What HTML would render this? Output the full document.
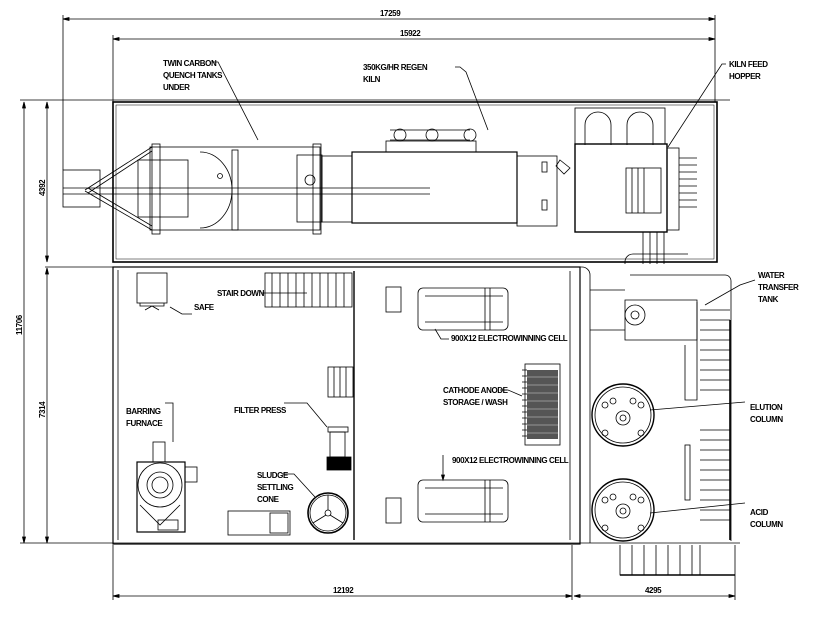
<!DOCTYPE html>
<html><head><style>html,body{margin:0;padding:0;background:#fff}svg{display:block}text{font-family:"Liberation Sans",sans-serif;font-size:8px;font-weight:bold;fill:#000;letter-spacing:-0.4px}</style></head>
<body>
<svg width="820" height="632" viewBox="0 0 820 632" xmlns="http://www.w3.org/2000/svg" fill="none" stroke="#000" stroke-width="0.8">
<line x1="63" y1="15" x2="63" y2="170"/>
<line x1="113" y1="35" x2="113" y2="102"/>
<line x1="715" y1="15" x2="715" y2="102"/>
<line x1="63" y1="19" x2="715" y2="19"/>
<line x1="113" y1="39" x2="715" y2="39"/>
<path d="M63 19l6-1.5v3zM715 19l-6-1.5v3zM113 39l6-1.5v3zM715 39l-6-1.5v3z" fill="#000"/>
<text x="380" y="16" stroke="none">17259</text>
<text x="400" y="36" stroke="none">15922</text>
<line x1="20" y1="100" x2="730" y2="100"/>
<line x1="24" y1="102" x2="24" y2="543"/>
<line x1="47" y1="102" x2="47" y2="262"/>
<line x1="47" y1="268" x2="47" y2="543"/>
<line x1="45" y1="267" x2="113" y2="267"/>
<path d="M24 102l-1.5 6h3zM24 543l-1.5-6h3zM47 102l-1.5 6h3zM47 262l-1.5-6h3zM47 268l-1.5 6h3zM47 543l-1.5-6h3z" fill="#000"/>
<text transform="translate(22,335) rotate(-90)" stroke="none">11706</text>
<text transform="translate(45,196) rotate(-90)" stroke="none">4392</text>
<text transform="translate(45,418) rotate(-90)" stroke="none">7314</text>
<rect x="113" y="102" width="604" height="160" stroke-width="1.6"/>
<rect x="116" y="105" width="598" height="154" stroke-width="0.5"/>
<rect x="63" y="170" width="37" height="37"/>
<line x1="63" y1="188" x2="430" y2="188"/><line x1="63" y1="194" x2="430" y2="194"/>
<path d="M85 190L152 147M88 193L152 151M85 191L152 230M88 188L152 226"/>
<rect x="150" y="147" width="170" height="83"/>
<rect x="152" y="144" width="8" height="90"/><rect x="232" y="150" width="6" height="80"/><rect x="313" y="144" width="8" height="90"/>
<rect x="138" y="160" width="50" height="57"/>
<path d="M200 152A32 38 0 0 1 200 228"/>
<circle cx="220" cy="176" r="2.5"/>
<rect x="297" y="155" width="25" height="67"/><circle cx="310" cy="180" r="5"/>
<rect x="322" y="156" width="30" height="66"/>
<rect x="352" y="152" width="165" height="71" stroke-width="1.2"/>
<path d="M390 140h80M390 130h80" /><circle cx="400" cy="135" r="6"/><circle cx="432" cy="135" r="6"/><circle cx="470" cy="135" r="6"/>
<rect x="386" y="141" width="90" height="11"/>
<rect x="517" y="156" width="40" height="70"/>
<rect x="542" y="162" width="5" height="10"/><rect x="542" y="200" width="5" height="10"/>
<path d="M560 160l10 8-6 6-8-8z"/>
<rect x="575" y="108" width="90" height="36"/>
<path d="M585 145v-20a13 13 0 0 1 26 0v20M627 145v-20a13 13 0 0 1 26 0v20"/>
<rect x="575" y="144" width="92" height="88" stroke-width="1.4"/>
<rect x="626" y="168" width="35" height="45"/><path d="M632 168v45M638 168v45M644 168v45"/>
<rect x="667" y="148" width="12" height="82"/>
<path d="M679 158h18M679 165h18M679 172h18M679 179h18M679 186h18M679 193h18M679 200h18M679 207h18"/>
<path d="M643 232v32M650 232v32M657 232v32M664 232v32"/>
<rect x="113" y="267" width="467" height="277" stroke-width="1.2"/>
<line x1="118" y1="270" x2="118" y2="540"/>
<line x1="354" y1="271" x2="354" y2="540" stroke-width="1.4"/>
<line x1="570" y1="271" x2="570" y2="540"/>
<path d="M575 267h7a8 8 0 0 1 8 8v268"/>
<rect x="137" y="273" width="30" height="30"/><path d="M140 303v3h24v-3M145 310l7-4 7 4"/>
<rect x="265" y="273" width="87" height="34"/>
<path d="M272 273v34M280 273v34M288 273v34M296 273v34M304 273v34M312 273v34M320 273v34M328 273v34M336 273v34M344 273v34"/>
<rect x="328" y="367" width="25" height="30"/><path d="M334 367v30M340 367v30M346 367v30"/>
<rect x="328" y="427" width="20" height="5"/><rect x="330" y="432" width="15" height="25"/><rect x="327" y="457" width="24" height="13" fill="#000"/>
<rect x="153" y="442" width="12" height="20"/>
<rect x="137" y="462" width="48" height="70" stroke-width="1.2"/>
<circle cx="160" cy="485" r="22"/><circle cx="160" cy="485" r="13"/><circle cx="160" cy="485" r="8"/>
<path d="M140 505l20 20 20-20"/><rect x="158" y="520" width="20" height="10"/>
<rect x="185" y="467" width="12" height="15"/>
<rect x="228" y="511" width="62" height="24"/><rect x="270" y="513" width="18" height="20"/>
<circle cx="328" cy="513" r="20" stroke-width="1.6"/><circle cx="328" cy="513" r="18"/><circle cx="328" cy="513" r="3"/>
<path d="M328 510v-15M326 515l-13 8M330 515l13 8"/>
<rect x="386" y="287" width="15" height="25"/><rect x="386" y="498" width="15" height="25"/>
<rect x="418" y="288" width="90" height="42" rx="5"/><path d="M425 296h78M425 322h78M485 288v42M490 288v42"/>
<rect x="418" y="480" width="90" height="42" rx="5"/><path d="M425 488h78M425 514h78M485 480v42M490 480v42"/>
<rect x="525" y="364" width="35" height="81"/>
<rect x="527" y="370" width="31" height="69" fill="#555" stroke="none"/>
<path d="M527 377h31M527 385h31M527 393h31M527 401h31M527 409h31M527 417h31M527 425h31M527 433h31" stroke="#aaa" stroke-width="0.8"/>
<path d="M522 370h5M522 376h5M522 382h5M522 388h5M522 394h5M522 400h5M522 406h5M522 412h5M522 418h5M522 424h5M522 430h5M522 436h5"/>
<path d="M590 290h35M590 330h35"/>
<path d="M625 264v-2a8 8 0 0 1 8-8h55M630 275h95a6 6 0 0 1 6 6v260"/>
<path d="M625 300h72v40h-72z"/><circle cx="635" cy="315" r="10"/><circle cx="635" cy="315" r="4"/>
<path d="M697 302v98h-12V345"/>
<path d="M700 310h30M700 320h30M700 330h30M700 340h30M700 350h30M700 360h30M700 370h30M700 380h30M700 390h30"/>
<line x1="730" y1="320" x2="730" y2="540" stroke-width="1.6"/>
<path d="M700 430h30M700 440h30M700 450h30M700 460h30M700 470h30M700 480h30M700 490h30M700 500h30M700 510h30M700 520h30"/>
<rect x="685" y="445" width="5" height="55"/>
<circle cx="623" cy="415" r="31" stroke-width="1.4"/><circle cx="623" cy="415" r="28"/><circle cx="623" cy="418" r="7"/><circle cx="623" cy="418" r="3"/>
<circle cx="605" cy="405" r="3"/><circle cx="641" cy="405" r="3"/><circle cx="605" cy="433" r="3"/><circle cx="641" cy="433" r="3"/><circle cx="613" cy="401" r="3"/><circle cx="633" cy="401" r="3"/>
<circle cx="623" cy="510" r="31" stroke-width="1.4"/><circle cx="623" cy="510" r="28"/><circle cx="623" cy="511" r="7"/><circle cx="623" cy="511" r="3"/>
<circle cx="605" cy="500" r="3"/><circle cx="641" cy="500" r="3"/><circle cx="605" cy="528" r="3"/><circle cx="641" cy="528" r="3"/><circle cx="613" cy="497" r="3"/><circle cx="633" cy="497" r="3"/>
<line x1="20" y1="543" x2="740" y2="543"/>
<path d="M620 545v30h80v-30M632 545v30M644 545v30M656 545v30M668 545v30M680 545v30M692 545v30"/>
<line x1="620" y1="575" x2="735" y2="575" stroke-width="1.6"/>
<line x1="113" y1="545" x2="113" y2="600"/><line x1="572" y1="545" x2="572" y2="600"/><line x1="735" y1="545" x2="735" y2="600"/>
<line x1="113" y1="596" x2="572" y2="596"/><line x1="574" y1="596" x2="735" y2="596"/>
<path d="M113 596l6-1.5v3zM572 596l-6-1.5v3zM574 596l6-1.5v3zM735 596l-6-1.5v3z" fill="#000"/>
<text x="333" y="593" stroke="none">12192</text>
<text x="645" y="593" stroke="none">4295</text>
<path d="M212 62h6l40 78M455 67h5l6 5 22 58M726 64h-4l-54 83M755 280l-15 5-35 20M650 410l95-8M650 513l95-10M170 307l12 7h10M262 293h45M284 403h23l20 24M165 403h8v39M282 474h12l21 23M500 390h8l14 6M449 339h-8l-6-10M443 455v23"/>
<path d="M443 480l-1.5-5h3z" fill="#000"/>
<g stroke="none">
<text x="163" y="66">TWIN CARBON</text><text x="163" y="78">QUENCH TANKS</text><text x="163" y="90">UNDER</text>
<text x="363" y="70">350KG/HR REGEN</text><text x="363" y="82">KILN</text>
<text x="729" y="67">KILN FEED</text><text x="729" y="79">HOPPER</text>
<text x="758" y="278">WATER</text><text x="758" y="290">TRANSFER</text><text x="758" y="302">TANK</text>
<text x="750" y="410">ELUTION</text><text x="750" y="422">COLUMN</text>
<text x="750" y="515">ACID</text><text x="750" y="527">COLUMN</text>
<text x="194" y="310">SAFE</text>
<text x="217" y="296">STAIR DOWN</text>
<text x="126" y="414">BARRING</text><text x="126" y="426">FURNACE</text>
<text x="234" y="413">FILTER PRESS</text>
<text x="257" y="478">SLUDGE</text><text x="257" y="490">SETTLING</text><text x="257" y="502">CONE</text>
<text x="451" y="341">900X12 ELECTROWINNING CELL</text>
<text x="452" y="463">900X12 ELECTROWINNING CELL</text>
<text x="443" y="393">CATHODE ANODE</text><text x="443" y="405">STORAGE / WASH</text>
</g>
</svg>
</body></html>
